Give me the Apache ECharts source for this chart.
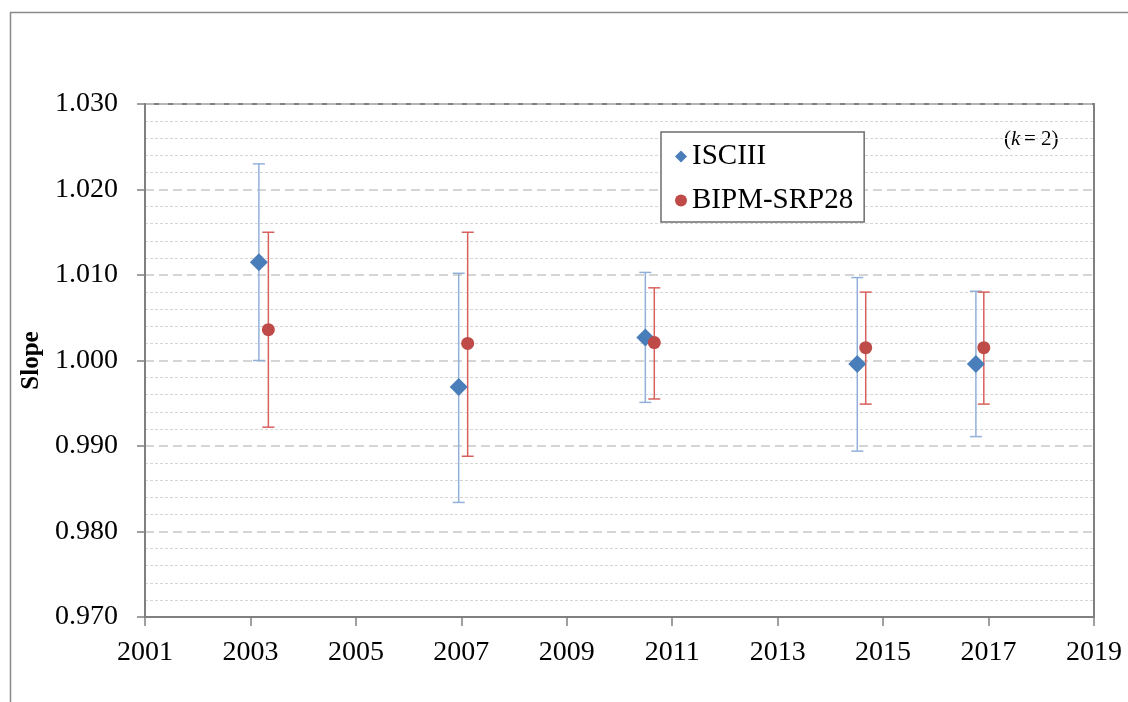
<!DOCTYPE html>
<html lang="en">
<head>
    <title>Slope</title>
    <meta charset="utf-8">
    <style>
        html, body {margin: 0; padding: 0; background: #fff;}
        #container {width: 1128px; height: 702px;}
    </style>
</head>
<body>
<div id="container"></div>
<script src="https://cdn.jsdelivr.net/npm/echarts@6/dist/echarts.min.js"></script>
<script>
// ISCIII
var isYears = [2003.16, 2006.95, 2010.49, 2014.51, 2016.76];
var isSlope = [1.0115, 0.9969, 1.0027, 0.9996, 0.9996];
var isLow   = [1.0000, 0.9834, 0.9951, 0.9894, 0.9911];
var isHigh  = [1.0230, 1.0102, 1.0103, 1.0097, 1.0081];
// BIPM-SRP28
var bpYears = [2003.34, 2007.12, 2010.66, 2014.67, 2016.91];
var bpSlope = [1.0036, 1.0020, 1.0021, 1.0015, 1.0015];
var bpLow   = [0.9922, 0.9888, 0.9955, 0.9949, 0.9949];
var bpHigh  = [1.0150, 1.0150, 1.0085, 1.0080, 1.0080];

var seriesNames = ['ISCIII', 'BIPM-SRP28'];

function pairs(xs, ys) {
    return xs.map(function (x, i) { return [x, ys[i]]; });
}
function bars(xs, lo, hi) {
    return xs.map(function (x, i) { return [x, lo[i], hi[i]]; });
}
function errorBar(color) {
    return function (params, api) {
        var top = api.coord([api.value(0), api.value(2)]);
        var bot = api.coord([api.value(0), api.value(1)]);
        var w = 6;
        var st = {stroke: color, lineWidth: 1.5};
        return {
            type: 'group',
            children: [
                {type: 'line', shape: {x1: top[0], y1: top[1], x2: bot[0], y2: bot[1]}, style: st},
                {type: 'line', shape: {x1: top[0] - w, y1: top[1], x2: top[0] + w, y2: top[1]}, style: st},
                {type: 'line', shape: {x1: bot[0] - w, y1: bot[1], x2: bot[0] + w, y2: bot[1]}, style: st}
            ]
        };
    };
}

var font = 'Liberation Serif';
var myChart = echarts.init(document.getElementById('container'));
var options = {
    animation: false,
    graphic: [
        {type: 'rect', left: 8, top: 10, shape: {width: 1130, height: 700},
            style: {fill: 'none', stroke: '#8a8a8a', lineWidth: 1.5}, silent: true},
        {type: 'text', left: 1004, top: 129,
            style: {text: '(', fontSize: 21, fontFamily: font, fill: '#000'}},
        {type: 'text', left: 1011, top: 129,
            style: {text: 'k', fontSize: 21, fontStyle: 'italic', fontFamily: font, fill: '#000'}},
        {type: 'text', left: 1024, top: 129,
            style: {text: '= 2)', fontSize: 21, fontFamily: font, fill: '#000'}}
    ],
    grid: {left: 145, top: 104, right: 34, bottom: 85, show: true,
        borderColor: '#808080', borderWidth: 2, backgroundColor: '#fff'},
    legend: {
        orient: 'vertical', left: 661, top: 132,
        data: [{name: seriesNames[0], icon: 'diamond'}, {name: seriesNames[1], icon: 'circle'}],
        itemWidth: 12, itemHeight: 12, itemGap: 15,
        padding: [10, 11, 7, 14],
        borderColor: '#6e6e6e', borderWidth: 1.5, backgroundColor: '#fff',
        textStyle: {fontFamily: font, fontSize: 29, color: '#000'}
    },
    xAxis: {
        type: 'value', min: 2001, max: 2019, interval: 2,
        axisLine: {lineStyle: {color: '#808080', width: 2}},
        axisTick: {length: 9, lineStyle: {color: '#808080', width: 1.5}},
        axisLabel: {margin: 22, fontFamily: font, fontSize: 28, color: '#000',
            formatter: function (v) { return String(v); }},
        splitLine: {show: false}
    },
    yAxis: {
        type: 'value', min: 0.97, max: 1.03, interval: 0.01,
        name: 'Slope', nameLocation: 'middle', nameGap: 96,
        nameTextStyle: {fontFamily: font, fontSize: 25, fontWeight: 'bold', color: '#000'},
        axisLine: {show: true, lineStyle: {color: '#808080', width: 2}},
        axisTick: {show: true, length: 8, lineStyle: {color: '#808080', width: 1.5}},
        axisLabel: {margin: 27, fontFamily: font, fontSize: 28, color: '#000',
            formatter: function (v) { return v.toFixed(3); }},
        splitLine: {show: true, lineStyle: {color: '#c8c8c8', type: [9, 5], width: 1.5}},
        minorTick: {show: false, splitNumber: 5},
        minorSplitLine: {show: true, lineStyle: {color: '#d6d6d6', type: [3, 2], width: 1}}
    },
    series: [
        {type: 'custom', name: 'isErr', renderItem: errorBar('#92b1da'),
            data: bars(isYears, isLow, isHigh), z: 2, silent: true},
        {type: 'custom', name: 'bpErr', renderItem: errorBar('#d7605d'),
            data: bars(bpYears, bpLow, bpHigh), z: 2, silent: true},
        {type: 'scatter', name: seriesNames[0], symbol: 'diamond', symbolSize: 18,
            itemStyle: {color: '#4a7ebb', opacity: 1}, data: pairs(isYears, isSlope), z: 3},
        {type: 'scatter', name: seriesNames[1], symbol: 'circle', symbolSize: 13,
            itemStyle: {color: '#be4b48', opacity: 1}, data: pairs(bpYears, bpSlope), z: 4}
    ]
};
myChart.setOption(options);
</script>
</body>
</html>
